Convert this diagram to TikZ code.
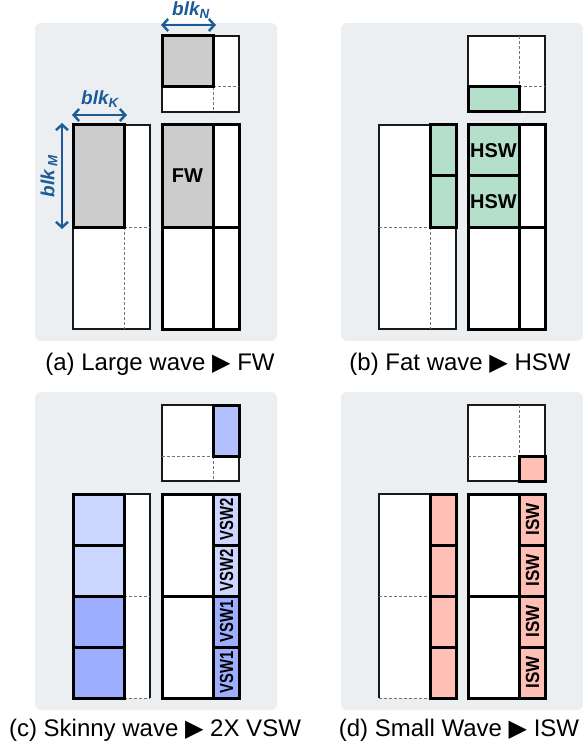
\documentclass[tikz,border=0pt]{standalone}
\usepackage{fontspec}
\setmainfont{Liberation Sans}
\newfontfamily\symfont{DejaVu Sans}
\usetikzlibrary{arrows.meta}

\definecolor{panelbg}{HTML}{ECEFF1}
\definecolor{blockgray}{HTML}{CCCCCC}
\definecolor{mint}{HTML}{B4DFCB}
\definecolor{bluelight}{HTML}{CDD6FF}
\definecolor{bluedark}{HTML}{9EAEFF}
\definecolor{bluemid}{HTML}{B2C0FF}
\definecolor{salmon}{HTML}{FFBFB4}
\definecolor{dimblue}{HTML}{1C5B98}

\tikzset{
  panel/.style={fill=panelbg, draw=none, rounded corners=6pt},
  thinline/.style={draw=black!90, line width=1.2pt},
  thickbox/.style={draw=black, line width=3pt, line join=miter},
  gridline/.style={draw=black!55, line width=1pt, dash pattern=on 3pt off 2pt},
  dimarrow/.style={draw=dimblue, line width=2.4pt,
    {Straight Barb[length=5.5pt,width=12pt]}-{Straight Barb[length=5.5pt,width=12pt]}},
  dimlabel/.style={text=dimblue, font=\fontsize{19}{19}\selectfont\bfseries\itshape, inner sep=0pt},
  wavelabel/.style={font=\fontsize{20}{20}\selectfont\bfseries, inner sep=0pt},
  celllabel/.style={font=\fontsize{19}{19}\selectfont\bfseries, inner sep=0pt, rotate=90},
  caption/.style={font=\fontsize{24}{28}\selectfont, inner sep=0pt},
}
% condensed set for the narrow column labels
\newcommand{\narrow}[2][0.78]{\scalebox{#1}[1]{#2}}

\begin{document}
\begin{tikzpicture}[x=1pt,y=-1pt]
\useasboundingbox (0,0) rectangle (582,751);

% ---------------- (a) Large wave -> FW ----------------
\fill[panel] (35,23) rectangle (277,341);
% B tile
\fill[white] (162,36) rectangle (239,112);
\fill[blockgray] (162,36) rectangle (213,87);
\draw[thinline] (162,36) rectangle (239,112);
\draw[gridline] (213,87) -- (213,112) (213,87) -- (239,87);
\draw[thickbox] (162,36) rectangle (213,87);
% A tile
\fill[white] (73,125) rectangle (150,329);
\fill[blockgray] (73,125) rectangle (124,227);
\draw[thinline] (73,125) rectangle (150,329);
\draw[gridline] (124,227) -- (124,329) (124,227) -- (150,227);
\draw[thickbox] (73,125) rectangle (124,227);
% C tile
\fill[white] (162,125) rectangle (239,329);
\fill[blockgray] (162,125) rectangle (213,227);
\draw[thickbox] (162,125) rectangle (239,329) (213,125) -- (213,329) (162,227) -- (239,227);
\node[wavelabel] (fw) at (187.5,176) {FW};
% block size arrows
\coordinate (kL) at (72,115);  \coordinate (kR) at (127,115);
\coordinate (nL) at (161,25);  \coordinate (nR) at (216,25);
\coordinate (mT) at (62,123);  \coordinate (mB) at (62,229);
\draw[dimarrow] (kL) -- (kR);
\draw[dimarrow] (nL) -- (nR);
\draw[dimarrow] (mT) -- (mB);
\node[dimlabel] (blkK) at (100,99) {blk\textsubscript{K}};
\node[dimlabel] (blkN) at (191,10) {blk\textsubscript{N}};
\node[dimlabel, rotate=90] (blkM) at (49,176) {blk\,\textsubscript{M}};
\node[caption] (capa) at (160,364) {(a) Large wave {\symfont ▶} FW};

% ---------------- (b) Fat wave -> HSW ----------------
\begin{scope}[shift={(306,0)}]
\fill[panel] (35,23) rectangle (277,341);
% B tile
\fill[white] (162,36) rectangle (239,112);
\fill[mint] (162,87) rectangle (213,112);
\draw[thinline] (162,36) rectangle (239,112);
\draw[gridline] (213,36) -- (213,87) (213,87) -- (239,87);
\draw[thickbox] (162,87) rectangle (213,112);
% A tile
\fill[white] (73,125) rectangle (150,329);
\fill[mint] (124,125) rectangle (150,227);
\draw[thinline] (73,125) rectangle (150,329);
\draw[gridline] (73,227) -- (124,227) (124,227) -- (124,329);
\draw[thickbox] (124,125) rectangle (150,227) (124,176) -- (150,176);
% C tile
\fill[white] (162,125) rectangle (239,329);
\fill[mint] (162,125) rectangle (213,227);
\draw[thickbox] (162,125) rectangle (239,329) (213,125) -- (213,329) (162,227) -- (239,227)
  (162,176) -- (213,176);
\node[wavelabel] (hswA) at (187.5,151) {HSW};
\node[wavelabel] (hswB) at (187.5,202) {HSW};
\node[caption] (capb) at (154,364) {(b) Fat wave {\symfont ▶} HSW};
\end{scope}

% ---------------- (c) Skinny wave -> 2X VSW ----------------
\begin{scope}[shift={(0,369)}]
\fill[panel] (35,23) rectangle (277,341);
% B tile
\fill[white] (162,36) rectangle (239,112);
\fill[bluemid] (213,36) rectangle (239,87);
\draw[thinline] (162,36) rectangle (239,112);
\draw[gridline] (162,87) -- (213,87) (213,87) -- (213,112);
\draw[thickbox] (213,36) rectangle (239,87);
% A tile
\fill[white] (73,125) rectangle (150,329);
\fill[bluelight] (73,125) rectangle (124,227);
\fill[bluedark] (73,227) rectangle (124,329);
\draw[thinline] (124,125) -- (150,125) -- (150,329);
\draw[gridline] (124,227) -- (150,227) (124,329) -- (150,329);
\draw[thickbox] (73,125) rectangle (124,329) (73,176) -- (124,176) (73,227) -- (124,227)
  (73,278) -- (124,278);
% C tile
\fill[white] (162,125) rectangle (239,329);
\fill[bluelight] (213,125) rectangle (239,227);
\fill[bluedark] (213,227) rectangle (239,329);
\draw[thickbox] (162,125) rectangle (239,329) (213,125) -- (213,329) (162,227) -- (239,227)
  (213,176) -- (239,176) (213,278) -- (239,278);
\node[celllabel] (vswA) at (226.5,150.5) {\narrow{VSW2}};
\node[celllabel] (vswB) at (226.5,201.5) {\narrow{VSW2}};
\node[celllabel] (vswC) at (226.5,252.5) {\narrow{VSW1}};
\node[celllabel] (vswD) at (226.5,303.5) {\narrow{VSW1}};
\node[caption] (capc) at (155,361) {(c) Skinny wave {\symfont ▶} 2X VSW};
\end{scope}

% ---------------- (d) Small wave -> ISW ----------------
\begin{scope}[shift={(306,369)}]
\fill[panel] (35,23) rectangle (277,341);
% B tile
\fill[white] (162,36) rectangle (239,112);
\fill[salmon] (213,87) rectangle (239,112);
\draw[thinline] (162,36) rectangle (239,112);
\draw[gridline] (213,36) -- (213,87) (162,87) -- (213,87);
\draw[thickbox] (213,87) rectangle (239,112);
% A tile
\fill[white] (73,125) rectangle (150,329);
\fill[salmon] (124,125) rectangle (150,329);
\draw[thinline] (124,329) -- (124,125) -- (73,125) -- (73,329);
\draw[gridline] (73,227) -- (124,227) (73,329) -- (124,329);
\draw[thickbox] (124,125) rectangle (150,329) (124,176) -- (150,176) (124,227) -- (150,227)
  (124,278) -- (150,278);
% C tile
\fill[white] (162,125) rectangle (239,329);
\fill[salmon] (213,125) rectangle (239,329);
\draw[thickbox] (162,125) rectangle (239,329) (213,125) -- (213,329) (162,227) -- (239,227)
  (213,176) -- (239,176) (213,278) -- (239,278);
\node[celllabel] (iswA) at (226.5,150.5) {\narrow[0.9]{ISW}};
\node[celllabel] (iswB) at (226.5,201.5) {\narrow[0.9]{ISW}};
\node[celllabel] (iswC) at (226.5,252.5) {\narrow[0.9]{ISW}};
\node[celllabel] (iswD) at (226.5,303.5) {\narrow[0.9]{ISW}};
\node[caption] (capd) at (153,361) {(d) Small Wave {\symfont ▶} ISW};
\end{scope}
\end{tikzpicture}
\end{document}
